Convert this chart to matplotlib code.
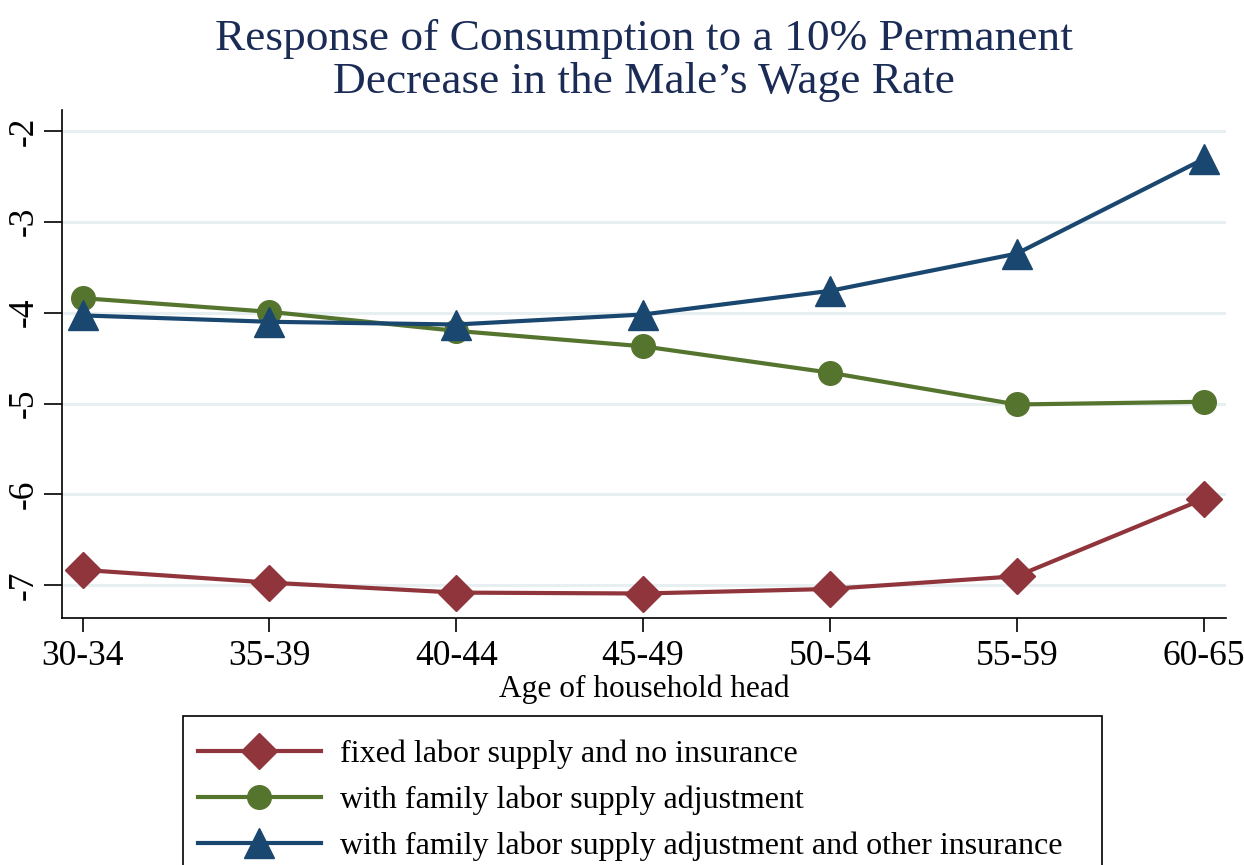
import matplotlib
matplotlib.use("Agg")
import matplotlib.pyplot as plt
from matplotlib.patches import Rectangle

age_groups = ["30-34", "35-39", "40-44", "45-49", "50-54", "55-59", "60-65"]
fixed_no_ins = [-6.83, -6.97, -7.08, -7.09, -7.04, -6.90, -6.05]
family_adj = [-3.84, -3.99, -4.20, -4.37, -4.66, -5.01, -4.98]
family_other = [-4.03, -4.10, -4.13, -4.02, -3.76, -3.35, -2.31]
y_ticks = [-2, -3, -4, -5, -6, -7]
labels = ["fixed labor supply and no insurance",
          "with family labor supply adjustment",
          "with family labor supply adjustment and other insurance"]

plt.rcParams['font.family'] = ['Liberation Serif', 'DejaVu Serif']

fig = plt.figure(figsize=(12.44, 8.65), dpi=100)
ax = fig.add_axes([0.0498, 0.2855, 0.9357, 0.5873])

x = list(range(len(age_groups)))
ax.plot(x, fixed_no_ins, color='#90353b', lw=3, marker='D', markersize=18, label=labels[0], zorder=3)
ax.plot(x, family_adj, color='#55752f', lw=3, marker='o', markersize=17, label=labels[1], zorder=3)
ax.plot(x, family_other, color='#1a476f', lw=3, marker='^', markersize=21, label=labels[2], zorder=3)

ax.set_xlim(-0.11, 6.12)
ax.set_ylim(-7.36, -1.77)
ax.set_xticks(x)
ax.set_xticklabels(age_groups, fontsize=25.5)
ax.set_yticks(y_ticks)
ax.set_yticklabels([str(v) for v in y_ticks], fontsize=25.5, rotation=90, va='center')
ax.tick_params(axis='y', length=13, width=1.2, pad=2)
ax.tick_params(axis='x', length=10, width=1.2, pad=6)
for v in y_ticks:
    ax.axhline(v, color='#e8eff1', lw=2.2, zorder=1)
for s in ['top', 'right']:
    ax.spines[s].set_visible(False)
for s in ['left', 'bottom']:
    ax.spines[s].set_linewidth(1.2)

ax.set_xlabel("Age of household head", fontsize=22.6, labelpad=1)
ax.set_title("Response of Consumption to a 10% Permanent\nDecrease in the Male\u2019s Wage Rate",
             fontsize=32.7, color='#1a2b55', linespacing=1.12, pad=12)

leg = fig.legend(loc='upper left', bbox_to_anchor=(188/1244, 1-730/865), fontsize=23,
                 frameon=False, handlelength=3.85,
                 handletextpad=0.6, labelspacing=0.52, borderpad=0.3, borderaxespad=0)
fig.patches.append(Rectangle((183/1244, -0.05), (1102-183)/1244, 0.05 + 1 - 716/865,
                             transform=fig.transFigure, fill=False, edgecolor='black', lw=1.2))

fig.savefig("out.png", dpi=100)
